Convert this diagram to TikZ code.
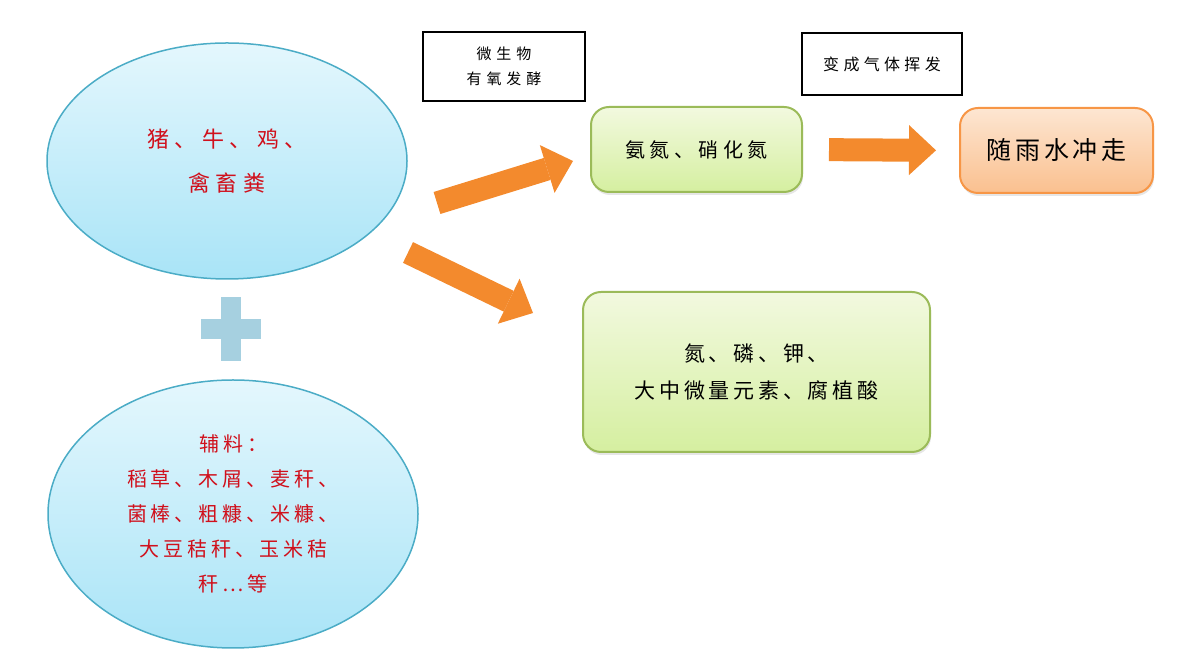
\documentclass[tikz,border=0pt]{standalone}
\usepackage{fontspec}
\newfontfamily\cjk{Noto Sans CJK SC}
\usetikzlibrary{shapes.geometric}
\usetikzlibrary{arrows.meta}
\usetikzlibrary{shadows}

\definecolor{skytop}{HTML}{E4F7FD}
\definecolor{skyfill}{HTML}{A9E4F7}
\definecolor{skyline}{HTML}{4BACC6}
\definecolor{leaftop}{HTML}{F2F9DF}
\definecolor{leaffill}{HTML}{D5EFA0}
\definecolor{leafline}{HTML}{9BBB59}
\definecolor{peachtop}{HTML}{FDE6D2}
\definecolor{peachfill}{HTML}{FAC08F}
\definecolor{peachline}{HTML}{F79646}
\definecolor{pumpkin}{HTML}{F38A2D}
\definecolor{dung}{HTML}{D0101C}
\definecolor{plusblue}{HTML}{A6D0E0}

\begin{document}
\begin{tikzpicture}[
  blob/.style={
    ellipse,
    draw=skyline,
    line width=1.5pt,
    top color=skytop,
    bottom color=skyfill,
    text=dung,
    align=center,
  },
  tag/.style={
    rectangle,
    draw=black,
    line width=1.2pt,
    fill=white,
    inner sep=0pt,
    align=center,
  },
  leaf/.style={
    rectangle,
    rounded corners=18pt,
    draw=leafline,
    line width=2pt,
    top color=leaftop,
    bottom color=leaffill,
    inner sep=0pt,
    align=center,
    drop shadow={opacity=0.2,shadow xshift=1pt,shadow yshift=-3pt},
  },
  peach/.style={
    leaf,
    draw=peachline,
    top color=peachtop,
    bottom color=peachfill,
  },
  fat/.style={
    pumpkin,
    line width=23pt,
    -{Triangle[length=27pt,width=50pt,line width=0pt]},
  },
]
  \useasboundingbox (0, 0) rectangle (1191pt, 671pt);

  \node[
    blob,
    minimum width=360pt,
    minimum height=236pt,
    font=\cjk\fontsize{22}{44}\selectfont\addfontfeature{LetterSpace=25},
  ] (manure) at (227pt, 510pt) {猪、牛、鸡、\\禽畜粪};

  % plus sign
  \fill[plusblue] (221pt, 310pt) rectangle (241pt, 374pt);
  \fill[plusblue] (201pt, 332pt) rectangle (261pt, 352pt);

  \node[
    blob,
    minimum width=370pt,
    minimum height=268pt,
    font=\cjk\fontsize{20}{35}\selectfont\addfontfeature{LetterSpace=20},
  ] (straw) at (233pt, 157pt) {辅料：\\稻草、木屑、麦秆、\\菌棒、粗糠、米糠、\\大豆秸秆、玉米秸\\秆…等};

  \node[
    tag,
    minimum width=162pt,
    minimum height=69pt,
    font=\cjk\fontsize{15}{25}\selectfont\addfontfeature{LetterSpace=33},
  ] (ferment) at (504pt, 604.5pt) {微生物\\有氧发酵};

  \node[
    tag,
    minimum width=160pt,
    minimum height=62pt,
    font=\cjk\fontsize{16}{25}\selectfont\addfontfeature{LetterSpace=27},
  ] (gas) at (882pt, 607pt) {变成气体挥发};

  \node[
    leaf,
    minimum width=211pt,
    minimum height=85pt,
    font=\cjk\fontsize{20}{25}\selectfont\addfontfeature{LetterSpace=22},
  ] (nitrogen) at (696.5pt, 521.5pt) {氨氮、硝化氮};

  \node[
    peach,
    minimum width=193pt,
    minimum height=85pt,
    font=\cjk\fontsize{25}{30}\selectfont\addfontfeature{LetterSpace=15},
  ] (runoff) at (1056.5pt, 520.5pt) {随雨水冲走};

  \node[
    leaf,
    minimum width=347pt,
    minimum height=160pt,
    font=\cjk\fontsize{21}{37}\selectfont\addfontfeature{LetterSpace=18},
  ] (nutrients) at (756.5pt, 299pt) {氮、磷、钾、\\大中微量元素、腐植酸};

  \coordinate (upTail) at (437pt, 468pt);
  \coordinate (upTip) at (573pt, 510pt);
  \coordinate (downTail) at (408pt, 418.5pt);
  \coordinate (downTip) at (533pt, 358pt);

  \draw[fat] (upTail) -- (upTip);
  \draw[fat] (downTail) -- (downTip);
  \draw[fat,shorten <=26pt,shorten >=23pt] (nitrogen.east) -- (runoff.west);
\end{tikzpicture}
\end{document}
